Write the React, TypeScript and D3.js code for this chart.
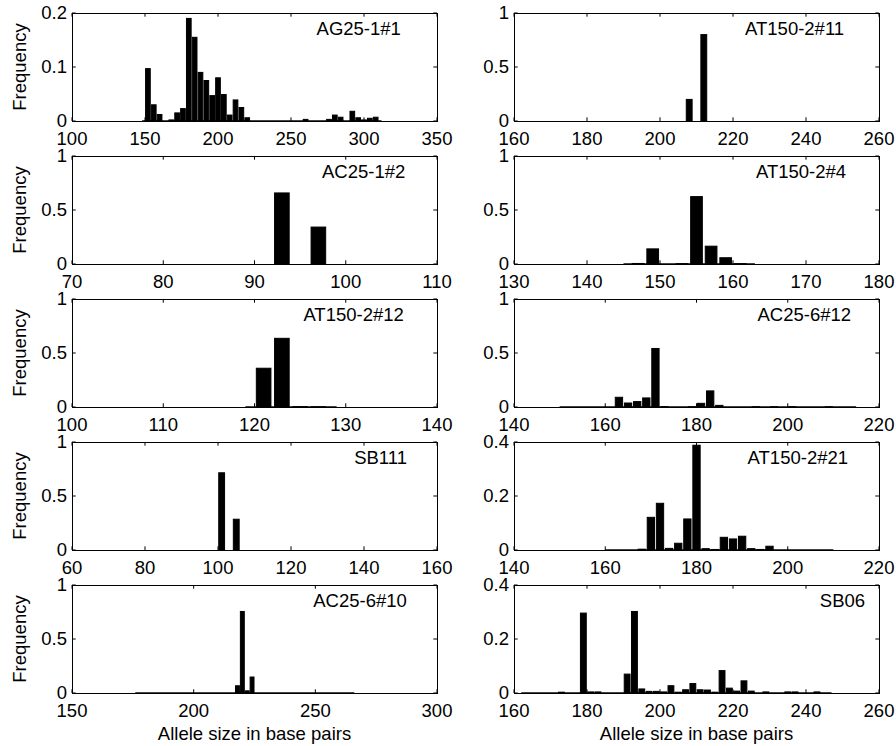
import React from "react";
import * as d3 from "d3";

// ---------- data ----------
const titles = ["AG25-1#1", "AC25-1#2", "AT150-2#12", "SB111", "AC25-6#10", "AT150-2#11", "AT150-2#4", "AC25-6#12", "AT150-2#21", "SB06"];

const ag25_1_1_sizes = [152, 156, 160, 168, 172, 176, 180, 184, 188, 192, 196, 200, 204, 208, 212, 216, 220, 260, 276, 280, 284, 292, 296, 300, 304, 308];
const ag25_1_1_freq = [0.097, 0.03, 0.012, 0.002, 0.015, 0.023, 0.19, 0.155, 0.09, 0.075, 0.047, 0.08, 0.049, 0.011, 0.039, 0.025, 0.006, 0.003, 0.003, 0.011, 0.007, 0.018, 0.006, 0.002, 0.005, 0.007];

const ac25_1_2_sizes = [93, 97];
const ac25_1_2_freq = [0.658, 0.342];

const at150_2_12_sizes = [121, 123, 125, 127];
const at150_2_12_freq = [0.359, 0.636, 0.003, 0.002];

const sb111_sizes = [101, 105];
const sb111_freq = [0.715, 0.285];

const ac25_6_10_sizes = [218, 220, 222, 224];
const ac25_6_10_freq = [0.067, 0.755, 0.02, 0.148];

const at150_2_11_sizes = [208, 212];
const at150_2_11_freq = [0.2, 0.8];

const at150_2_4_sizes = [147, 149, 153, 155, 157, 159, 161];
const at150_2_4_freq = [0.005, 0.14, 0.003, 0.624, 0.165, 0.058, 0.003];

const ac25_6_12_sizes = [163, 165, 167, 169, 171, 173, 179, 181, 183, 185, 193, 197, 201, 209];
const ac25_6_12_freq = [0.09, 0.037, 0.05, 0.084, 0.542, 0.003, 0.002, 0.034, 0.149, 0.015, 0.002, 0.002, 0.002, 0.002];

const at150_2_21_sizes = [168, 170, 172, 174, 176, 178, 180, 182, 184, 186, 188, 190, 192, 194, 196];
const at150_2_21_freq = [0.003, 0.121, 0.173, 0.006, 0.025, 0.115, 0.388, 0.005, 0.002, 0.047, 0.041, 0.051, 0.005, 0.002, 0.014];

const sb06_sizes = [173, 179, 181, 183, 191, 193, 195, 197, 199, 201, 203, 205, 207, 209, 211, 213, 215, 217, 219, 221, 223, 225, 229, 235, 237, 243];
const sb06_freq = [0.003, 0.296, 0.004, 0.004, 0.07, 0.302, 0.015, 0.006, 0.006, 0.004, 0.027, 0.003, 0.012, 0.035, 0.012, 0.011, 0.003, 0.083, 0.018, 0.007, 0.045, 0.007, 0.004, 0.004, 0.004, 0.004];

const sizesList = [ag25_1_1_sizes, ac25_1_2_sizes, at150_2_12_sizes, sb111_sizes, ac25_6_10_sizes, at150_2_11_sizes, at150_2_4_sizes, ac25_6_12_sizes, at150_2_21_sizes, sb06_sizes];
const freqList = [ag25_1_1_freq, ac25_1_2_freq, at150_2_12_freq, sb111_freq, ac25_6_10_freq, at150_2_11_freq, at150_2_4_freq, ac25_6_12_freq, at150_2_21_freq, sb06_freq];

// bin width (bp) of each histogram
const binWidths = [4, 2, 2, 2, 2, 2, 2, 2, 2, 2];

// axis tick labels
const xTicksList = [
  [100, 150, 200, 250, 300, 350],
  [70, 80, 90, 100, 110],
  [100, 110, 120, 130, 140],
  [60, 80, 100, 120, 140, 160],
  [150, 200, 250, 300],
  [160, 180, 200, 220, 240, 260],
  [130, 140, 150, 160, 170, 180],
  [140, 160, 180, 200, 220],
  [140, 160, 180, 200, 220],
  [160, 180, 200, 220, 240, 260],
];
const yTicksList = [
  [0, 0.1, 0.2],
  [0, 0.5, 1],
  [0, 0.5, 1],
  [0, 0.5, 1],
  [0, 0.5, 1],
  [0, 0.5, 1],
  [0, 0.5, 1],
  [0, 0.5, 1],
  [0, 0.2, 0.4],
  [0, 0.2, 0.4],
];
// range of observed allele sizes drawn as zero-height bars along the baseline
const zeroSpans = [
  [148, 312], null, [119, 129], null, [176, 266],
  null, [145, 163], [150, 215], [160, 210], [162, 247],
];

// ---------- layout ----------
const W = 896, H = 746;
const colX = [72, 514];
const PW = 365, PH = 108;
const rowTop = (i: number) => 13 + 143 * i;
const titleFrac = [0.67, 0.685, 0.634, 0.773, 0.661, 0.633, 0.663, 0.667, 0.64, 0.838];
const FONT = "'Liberation Sans', Arial, Helvetica, sans-serif";
const FS = 18.5;
const TICK = 3.7;

function fmt(v: number) {
  return String(v);
}

function Panel({ idx }: { idx: number }) {
  const col = idx < 5 ? 0 : 1;
  const row = idx % 5;
  const x0 = colX[col];
  const y0 = rowTop(row);
  const xt = xTicksList[idx];
  const yt = yTicksList[idx];
  const xs = d3.scaleLinear().domain([xt[0], xt[xt.length - 1]]).range([x0, x0 + PW]);
  const ys = d3.scaleLinear().domain([yt[0], yt[yt.length - 1]]).range([y0 + PH, y0]);
  const bw = binWidths[idx] * 0.8;
  const sizes = sizesList[idx];
  const freqs = freqList[idx];
  const bottom = y0 + PH;
  const span = zeroSpans[idx];
  return (
    <g>
      {span && (
        <line x1={xs(span[0])} x2={xs(span[1])} y1={bottom - 0.5} y2={bottom - 0.5} stroke="#444" strokeWidth={1} />
      )}
      {sizes.map((s, i) => {
        const f = freqs[i];
        const xa = xs(s - bw / 2);
        const xb = xs(s + bw / 2);
        return (
          <rect key={i} x={xa} y={ys(f)} width={xb - xa} height={Math.max(0, ys(0) - ys(f))} fill="#000" stroke="#000" strokeWidth={1} />
        );
      })}
      <rect x={x0 + 0.5} y={y0 + 0.5} width={PW} height={PH} fill="none" stroke="#000" strokeWidth={1} />
      {xt.map((t, i) => (
        <g key={"x" + i}>
          <line x1={xs(t)} x2={xs(t)} y1={bottom} y2={bottom - TICK} stroke="#000" strokeWidth={1} />
          <line x1={xs(t)} x2={xs(t)} y1={y0} y2={y0 + TICK} stroke="#000" strokeWidth={1} />
          <text x={xs(t)} y={bottom + 24} textAnchor="middle" fontFamily={FONT} fontSize={FS}>
            {fmt(t)}
          </text>
        </g>
      ))}
      {yt.map((t, i) => (
        <g key={"y" + i}>
          <line x1={x0} x2={x0 + TICK} y1={ys(t)} y2={ys(t)} stroke="#000" strokeWidth={1} />
          <line x1={x0 + PW} x2={x0 + PW - TICK} y1={ys(t)} y2={ys(t)} stroke="#000" strokeWidth={1} />
          <text x={x0 - 5} y={ys(t) + 6} textAnchor="end" fontFamily={FONT} fontSize={FS}>
            {fmt(t)}
          </text>
        </g>
      ))}
      <text x={x0 + PW * titleFrac[idx]} y={y0 + 21.5} fontFamily={FONT} fontSize={FS}>
        {titles[idx]}
      </text>
      {col === 0 && (
        <text transform={`translate(26,${y0 + PH / 2}) rotate(-90)`} textAnchor="middle" fontFamily={FONT} fontSize={FS}>
          Frequency
        </text>
      )}
      {row === 4 && (
        <text x={x0 + PW / 2} y={740} textAnchor="middle" fontFamily={FONT} fontSize={FS}>
          Allele size in base pairs
        </text>
      )}
    </g>
  );
}

export default function App() {
  return (
    <svg width={W} height={H} viewBox={`0 0 ${W} ${H}`} style={{ position: "absolute", left: 0, top: 0, background: "#fff" }}>
      <rect x={0} y={0} width={W} height={H} fill="#fff" />
      {titles.map((_, i) => (
        <Panel key={i} idx={i} />
      ))}
    </svg>
  );
}
